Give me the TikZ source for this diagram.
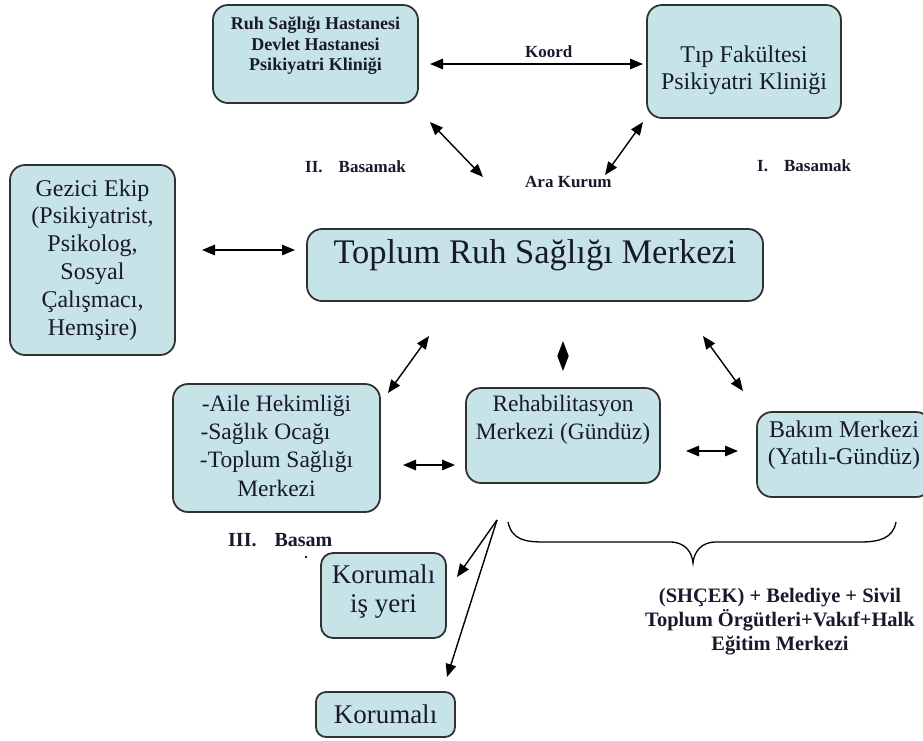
\documentclass[tikz,border=0pt]{standalone}
\usepackage{fontspec}
\setmainfont{Liberation Serif}
\usetikzlibrary{arrows.meta}
\definecolor{boxfill}{RGB}{198,228,232}
\definecolor{boxline}{RGB}{50,50,50}
\definecolor{txt}{RGB}{25,25,45}
\newcommand\upby[2]{\raisebox{#1}[\height][\depth]{\begin{tabular}{@{}c@{}}#2\end{tabular}}}
\begin{document}
\begin{tikzpicture}[x=1pt,y=-1pt,
  box/.style={draw=boxline, line width=1.8pt, fill=boxfill, rounded corners=15pt, inner sep=0pt, text=txt},
  lab/.style={font=\bfseries\fontsize{17}{20}\selectfont, text=txt, inner sep=0pt},
  dbl/.style={{Triangle[length=13pt,width=10.5pt]}-{Triangle[length=13pt,width=10.5pt]}, line width=1.4pt},
  one/.style={-{Triangle[length=13pt,width=10.5pt]}, line width=1.4pt},
  dia/.style={{Triangle[length=15pt,width=11pt]}-{Triangle[length=15pt,width=11pt]}, line width=1.4pt}]
\useasboundingbox (0,0) rectangle (923,740);
\fill[white] (0,0) rectangle (923,740);

% boxes
\node[box, minimum width=205pt, minimum height=98pt, font=\bfseries\fontsize{18}{20.5}\selectfont] (ruh) at (315.5,54)
  {\upby{8pt}{Ruh Sağlığı Hastanesi\\Devlet Hastanesi\\Psikiyatri Kliniği}};
\node[box, minimum width=194pt, minimum height=113pt, font=\fontsize{24}{27}\selectfont] (tip) at (744,61.5)
  {\upby{-9pt}{Tıp Fakültesi\\Psikiyatri Kliniği}};
\node[box, minimum width=165pt, minimum height=190pt, font=\fontsize{24}{27.8}\selectfont] (gez) at (92.5,260)
  {\upby{0pt}{Gezici Ekip\\(Psikiyatrist,\\Psikolog,\\Sosyal\\Çalışmacı,\\Hemşire)}};
\node[box, minimum width=456pt, minimum height=72pt, font=\fontsize{34.5}{40}\selectfont] (trsm) at (535,265)
  {\upby{10pt}{Toplum Ruh Sağlığı Merkezi}};
\node[box, minimum width=207pt, minimum height=128pt, font=\fontsize{23.5}{28.3}\selectfont] (aile) at (276.5,448)
  {\upby{0pt}{-Aile Hekimliği\\-Sağlık Ocağı\hspace*{22pt}\\-Toplum Sağlığı\\Merkezi}};
\node[box, minimum width=194pt, minimum height=95pt, font=\fontsize{23.5}{28}\selectfont] (reh) at (563,435.5)
  {\upby{16pt}{Rehabilitasyon\\Merkezi (Gündüz)}};
\node[box, minimum width=174pt, minimum height=85pt, font=\fontsize{24}{27}\selectfont] (bak) at (844,454.5)
  {\upby{9pt}{Bakım Merkezi\\(Yatılı-Gündüz)}};
\node[box, rounded corners=12pt, minimum width=125pt, minimum height=85pt, font=\fontsize{27}{29}\selectfont] (kiy) at (383.5,595.5)
  {\upby{3pt}{Korumalı\\iş yeri}};
\node[box, rounded corners=10pt, minimum width=139pt, minimum height=45pt, font=\fontsize{27}{29}\selectfont] (kor) at (385.5,714.5)
  {Korumalı};

% labels
\node[lab, anchor=west] (koord) at (525,52) {Koord};
\node[lab, anchor=west] (bas2) at (305,167) {II.\hspace{16pt}Basamak};
\node[lab, anchor=west] (bas1) at (757,166) {I.\hspace{16pt}Basamak};
\node[lab, anchor=west] (ara) at (525,182) {Ara Kurum};
\node[lab, anchor=west, font=\bfseries\fontsize{20}{22}\selectfont] (bas3) at (228,540) {III.\hspace{18pt}Basam};
\fill[txt] (306,557) circle (1.3pt);
\node[lab, font=\bfseries\fontsize{20.5}{24}\selectfont] (shcek) at (780,622)
  {\begin{tabular}{@{}c@{}}(SHÇEK) + Belediye + Sivil\\Toplum Örgütleri+Vakıf+Halk\\Eğitim Merkezi\end{tabular}};

% connector end points
\coordinate (kL) at (430,64);   \coordinate (kR) at (643,64);
\coordinate (r1) at (430,122);  \coordinate (r2) at (483,177);
\coordinate (t1) at (643,122);  \coordinate (t2) at (605,175);
\coordinate (g1) at (202,250);  \coordinate (g2) at (295,250);
\coordinate (a1) at (429,336);  \coordinate (a2) at (388,393);
\coordinate (d1) at (563,341);  \coordinate (d2) at (563,371);
\coordinate (b1) at (703,336);  \coordinate (b2) at (743,391);
\coordinate (h1) at (403,465);  \coordinate (h2) at (455,465);
\coordinate (m1) at (686,451);  \coordinate (m2) at (738,451);
\coordinate (f0) at (497,520);  \coordinate (f1) at (457,577);  \coordinate (f2) at (447,677);

\draw[dbl] (kL) -- (kR);
\draw[dbl] (r1) -- (r2);
\draw[dbl] (t1) -- (t2);
\draw[dbl] (g1) -- (g2);
\draw[dbl] (a1) -- (a2);
\draw[dia] (d1) -- (d2);
\draw[dbl] (b1) -- (b2);
\draw[dbl] (h1) -- (h2);
\draw[dbl] (m1) -- (m2);
\draw[one] (f0) -- (f1);
\draw[one] (f0) -- (f2);

% brace
\draw[line width=1.3pt] (508,522) .. controls (512,540) and (525,542) .. (545,542) -- (670,542)
  .. controls (685,542) and (692,552) .. (693,563)
  .. controls (694,552) and (701,542) .. (716,542) -- (860,542)
  .. controls (880,542) and (893,538) .. (896,522);
\end{tikzpicture}
\end{document}
